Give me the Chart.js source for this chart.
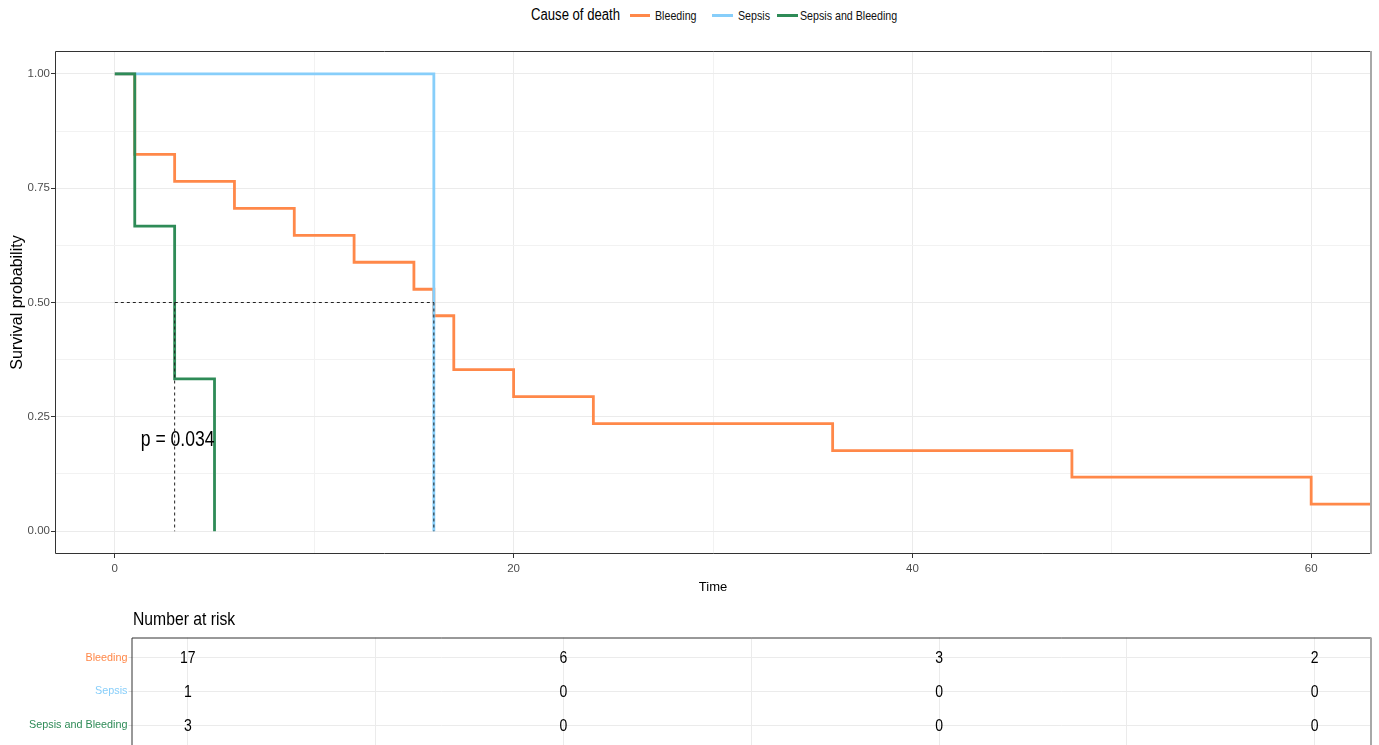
<!DOCTYPE html>
<html>
<head>
<meta charset="utf-8">
<script src="https://cdn.jsdelivr.net/npm/chart.js@4.4.1/dist/chart.umd.min.js"></script>
<style>
  html, body { margin: 0; padding: 0; background: #fff; overflow: hidden; width: 1379px; height: 745px; }
  #main { position: absolute; left: 0; top: 0; }
  #risk { position: absolute; left: 0; top: 600px; }
  #legend { position: absolute; left: 0; top: 0; width: 1379px; height: 30px; font-family: 'Liberation Sans', Arial, sans-serif; color: #000; }
  #legend span { position: absolute; white-space: nowrap; }
  #legend .ttl { font-size: 16px; line-height: 16px; top: 7px; transform: scaleX(0.82); transform-origin: left center; }
  #legend .sw { height: 3px; top: 14px; }
  #legend .lbl { font-size: 13px; line-height: 13px; top: 8.5px; color: #111; transform: scaleX(0.82); transform-origin: left center; }
</style>
</head>
<body>
<div id="legend"></div>
<canvas id="main" width="1379" height="600"></canvas>
<canvas id="risk" width="1379" height="153"></canvas>
<script>
const FONT = "'Liberation Sans', Arial, sans-serif";

const legendTitle = 'Cause of death';
const seriesNames = ['Bleeding', 'Sepsis', 'Sepsis and Bleeding'];
const seriesColors = ['#FF8849', '#87CEFA', '#2E8B57'];

const timesBleeding = [0, 1, 3, 6, 9, 12, 15, 16, 17, 20, 24, 36, 48, 60, 63];
const survBleeding  = [1, 0.824, 0.765, 0.706, 0.647, 0.588, 0.529, 0.471, 0.353, 0.294, 0.235, 0.176, 0.118, 0.059, 0.059];
const timesSepsis = [0, 16];
const survSepsis  = [1, 0];
const timesBoth = [0, 1, 3, 5];
const survBoth  = [1, 0.667, 0.333, 0];

const medianLevel = 0.5;
const medianTimes = [3, 16];

const xMajorTicks = [0, 20, 40, 60];
const xMinorTicks = [10, 30, 50];
const yMajorTicks = [0, 0.25, 0.5, 0.75, 1];
const yMinorTicks = [0.125, 0.375, 0.625, 0.875];

const pValueText = 'p = 0.034';
const pValueX = 1.3;
const pValueY = 0.2;

const riskTitle = 'Number at risk';
const riskTimes = [0, 20, 40, 60];
const riskBleeding = [17, 6, 3, 2];
const riskSepsis = [1, 0, 0, 0];
const riskBoth = [3, 0, 0, 0];

// ---------- legend (HTML, positioned like the reference) ----------
(function buildLegend() {
  const lg = document.getElementById('legend');
  const titleLeft = 531, swLeft = [630, 712, 777], swWidth = [20, 21, 21], lblLeft = [655, 738, 800];
  const t = document.createElement('span'); t.className = 'ttl'; t.textContent = legendTitle; t.style.left = titleLeft + 'px'; lg.appendChild(t);
  seriesNames.forEach((n, i) => {
    const sw = document.createElement('span'); sw.className = 'sw'; sw.style.background = seriesColors[i];
    sw.style.left = swLeft[i] + 'px'; sw.style.width = swWidth[i] + 'px'; lg.appendChild(sw);
    const l = document.createElement('span'); l.className = 'lbl'; l.textContent = n; l.style.left = lblLeft[i] + 'px'; lg.appendChild(l);
  });
})();

// condensed text helper for plugin-drawn labels
function narrowText(ctx, text, x, y, sx, align) {
  ctx.save();
  ctx.translate(x, y);
  ctx.scale(sx, 1);
  ctx.textAlign = align;
  ctx.fillText(text, 0, 0);
  ctx.restore();
}

const toPts = (xs, ys) => xs.map((x, i) => ({ x: x, y: ys[i] }));

const curveDatasets = [
  { label: seriesNames[0], data: toPts(timesBleeding, survBleeding), borderColor: seriesColors[0], order: 3 },
  { label: seriesNames[1], data: toPts(timesSepsis, survSepsis), borderColor: seriesColors[1], order: 2 },
  { label: seriesNames[2], data: toPts(timesBoth, survBoth), borderColor: seriesColors[2], order: 1 }
].map(d => Object.assign(d, { stepped: 'before', borderWidth: 2.8, pointRadius: 0, fill: false, tension: 0 }));

const dashStyle = { borderColor: '#222', borderWidth: 1, borderDash: [3, 3], pointRadius: 0, fill: false, order: 0, stepped: false };
const medianDatasets = [
  Object.assign({ label: 'median-h', data: [{ x: 0, y: medianLevel }, { x: Math.max(...medianTimes), y: medianLevel }] }, dashStyle)
].concat(medianTimes.map(m => Object.assign({ label: 'median-v' + m, data: [{ x: m, y: medianLevel }, { x: m, y: 0 }] }, dashStyle)));

const isIn = (arr, v) => arr.some(a => Math.abs(a - v) < 1e-9);

const mainPlugin = {
  id: 'mainExtras',
  afterDatasetsDraw(chart) {
    const { ctx, scales: { x, y } } = chart;
    ctx.save();
    ctx.fillStyle = '#000';
    ctx.font = '22px ' + FONT;
    ctx.textBaseline = 'middle';
    narrowText(ctx, pValueText, x.getPixelForValue(pValueX), y.getPixelForValue(pValueY), 0.8, 'left');
    ctx.restore();
  },
  afterDraw(chart) {
    const { ctx, chartArea: a } = chart;
    ctx.save();
    ctx.strokeStyle = '#333';
    ctx.lineWidth = 1;
    ctx.beginPath();
    ctx.moveTo(a.right, a.top + 0.5); ctx.lineTo(a.left + 0.5, a.top + 0.5);
    ctx.lineTo(a.left + 0.5, a.bottom - 0.5); ctx.lineTo(a.right, a.bottom - 0.5);
    ctx.stroke();
    ctx.strokeStyle = '#A8A8A8';
    ctx.lineWidth = 2;
    ctx.beginPath();
    ctx.moveTo(a.right, a.top); ctx.lineTo(a.right, a.bottom);
    ctx.stroke();
    ctx.restore();
  }
};

new Chart(document.getElementById('main'), {
  type: 'line',
  data: { datasets: curveDatasets.concat(medianDatasets) },
  options: {
    responsive: false, animation: false, events: [],
    layout: { padding: { top: 51, right: 8, left: 0, bottom: 0 } },
    plugins: { legend: { display: false }, tooltip: { enabled: false } },
    scales: {
      x: {
        type: 'linear', min: -3, max: 63,
        afterBuildTicks: s => { s.ticks = xMajorTicks.concat(xMinorTicks).sort((a, b) => a - b).map(v => ({ value: v })); },
        afterFit: s => { s.height = 46; },
        border: { display: false },
        grid: {
          color: c => (c.tick && isIn(xMajorTicks, c.tick.value)) ? '#EBEBEB' : '#F2F2F2',
          lineWidth: 1,
          tickColor: c => (c.tick && isIn(xMajorTicks, c.tick.value)) ? '#333' : 'rgba(0,0,0,0)',
          tickLength: 4
        },
        ticks: {
          autoSkip: false, maxRotation: 0, padding: 4, color: '#4D4D4D',
          font: { family: FONT, size: 11.5 },
          callback: v => isIn(xMajorTicks, v) ? String(v) : ''
        },
        title: { display: true, text: 'Time', color: '#000', font: { family: FONT, size: 13 }, padding: { top: 0, bottom: 5 } }
      },
      y: {
        type: 'linear', min: -0.05, max: 1.05,
        afterBuildTicks: s => { s.ticks = yMajorTicks.concat(yMinorTicks).sort((a, b) => a - b).map(v => ({ value: v })); },
        afterFit: s => { s.width = 55; },
        border: { display: false },
        grid: {
          color: c => (c.tick && isIn(yMajorTicks, c.tick.value)) ? '#EBEBEB' : '#F2F2F2',
          lineWidth: 1,
          tickColor: c => (c.tick && isIn(yMajorTicks, c.tick.value)) ? '#333' : 'rgba(0,0,0,0)',
          tickLength: 4
        },
        ticks: {
          autoSkip: false, padding: 1, color: '#4D4D4D',
          font: { family: FONT, size: 11.5 },
          callback: v => isIn(yMajorTicks, v) ? v.toFixed(2) : ''
        },
        title: { display: true, text: 'Survival probability', color: '#000', font: { family: FONT, size: 16 }, padding: { top: 8, bottom: 0 } }
      }
    }
  },
  plugins: [mainPlugin]
});

// ---------- risk table ----------
const riskSeries = [riskBleeding, riskSepsis, riskBoth];
const riskDatasets = riskSeries.map((vals, r) => ({
  label: seriesNames[r],
  data: riskTimes.map((t, i) => ({ x: t, y: r + 1, n: vals[i] })),
  showLine: false, pointRadius: 0, borderColor: 'rgba(0,0,0,0)'
}));

const riskPlugin = {
  id: 'riskExtras',
  afterDatasetsDraw(chart) {
    const { ctx } = chart;
    ctx.save();
    ctx.fillStyle = '#000';
    ctx.font = '16.5px ' + FONT;
    ctx.textBaseline = 'middle';
    chart.data.datasets.forEach((ds, di) => {
      const meta = chart.getDatasetMeta(di);
      meta.data.forEach((el, i) => narrowText(ctx, String(ds.data[i].n), el.x, el.y + 1, 0.85, 'center'));
    });
    ctx.restore();
  },
  afterDraw(chart) {
    const { ctx, chartArea: a } = chart;
    ctx.save();
    ctx.strokeStyle = '#333';
    ctx.lineWidth = 1;
    ctx.beginPath();
    ctx.moveTo(a.right, a.top + 0.5); ctx.lineTo(a.left + 0.5, a.top + 0.5); ctx.lineTo(a.left + 0.5, a.bottom + 20);
    ctx.stroke();
    ctx.strokeStyle = '#A8A8A8';
    ctx.lineWidth = 2;
    ctx.beginPath();
    ctx.moveTo(a.right, a.top); ctx.lineTo(a.right, a.bottom + 20);
    ctx.stroke();
    ctx.fillStyle = '#000';
    ctx.font = '18.5px ' + FONT;
    ctx.textBaseline = 'middle';
    narrowText(ctx, riskTitle, a.left + 1.5, 20, 0.85, 'left');
    ctx.restore();
  }
};

new Chart(document.getElementById('risk'), {
  type: 'line',
  data: { datasets: riskDatasets },
  options: {
    responsive: false, animation: false, events: [],
    layout: { padding: { top: 37.5, right: 8, left: 0, bottom: 0 } },
    plugins: { legend: { display: false }, tooltip: { enabled: false } },
    scales: {
      x: {
        type: 'linear', min: -3, max: 63,
        afterBuildTicks: s => { s.ticks = xMajorTicks.concat(xMinorTicks).sort((a, b) => a - b).map(v => ({ value: v })); },
        afterFit: s => { s.height = 0; },
        border: { display: false },
        ticks: { display: false },
        grid: { color: '#EBEBEB', drawTicks: false }
      },
      y: {
        type: 'linear', min: 0.4, max: 3.6, reverse: true,
        afterBuildTicks: s => { s.ticks = seriesNames.map((n, i) => ({ value: i + 1 })); },
        afterFit: s => { s.width = 131.5; },
        border: { display: false },
        grid: { color: '#EBEBEB', tickColor: '#D9D9D9', tickLength: 3 },
        ticks: {
          autoSkip: false, padding: 1,
          font: { family: FONT, size: 10.8 },
          color: c => seriesColors[c.index],
          callback: v => seriesNames[Math.round(v) - 1]
        }
      }
    }
  },
  plugins: [riskPlugin]
});
</script>
</body>
</html>
